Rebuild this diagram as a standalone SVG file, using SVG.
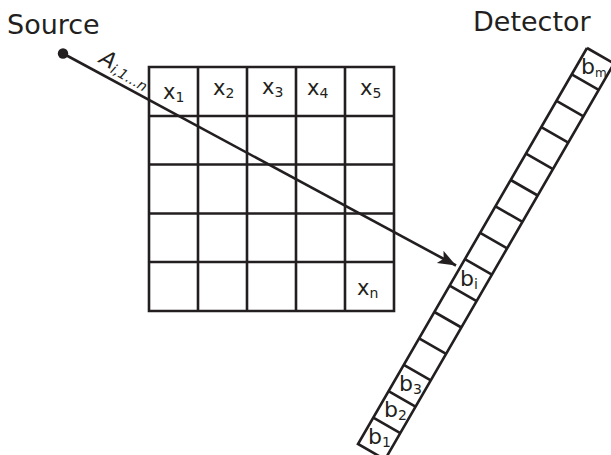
<svg xmlns="http://www.w3.org/2000/svg" width="611" height="455" viewBox="0 0 611 455">
<style>
text{font-family:"DejaVu Sans",sans-serif;fill:#231f20}
.t{font-size:27px}
.c{font-size:21px}
.b{font-size:22px}
.s{font-size:14px}
.l{fill:none;stroke:#231f20;stroke-width:2.6}
</style>
<defs><marker id="a" markerUnits="userSpaceOnUse" markerWidth="20" markerHeight="16" refX="18" refY="7" orient="auto"><path d="M0 0L18 7L0 14L4 7Z" fill="#231f20"/></marker></defs>
<rect width="611" height="455" fill="#fff"/>
<g id="source"><circle cx="63" cy="53.500" r="5.200" fill="#231f20"/><text class="t" x="7" y="34">Source</text></g>
<g id="grid">
<path class="l" d="M149 67H394V311H149ZM198 67V311M247 67V311M296 67V311M345 67V311M149 116H394M149 164.500H394M149 213.500H394M149 262H394"/>
<text class="c" x="163" y="99">x<tspan class="s" dy="3">1</tspan></text>
<text class="c" x="213" y="95">x<tspan class="s" dy="3">2</tspan></text>
<text class="c" x="262" y="94">x<tspan class="s" dy="3">3</tspan></text>
<text class="c" x="307" y="95">x<tspan class="s" dy="3">4</tspan></text>
<text class="c" x="360" y="95">x<tspan class="s" dy="3">5</tspan></text>
<text class="c" x="357" y="295">x<tspan class="s" dy="3">n</tspan></text>
</g>
<g id="detector">
<path class="l" d="M587 48L358 444L385 459.500M587 48L614 63.500L385 459.500"/>
<path class="l" d="M373.300 417.600L400.300 433.100M388.500 391.200L415.500 406.700M403.800 364.800L430.800 380.300M419.100 338.400L446.100 353.900M434.400 312L461.400 327.500M449.600 285.600L476.600 301.100M464.900 259.200L491.900 274.700M480.200 232.800L507.200 248.300M495.500 206.400L522.500 221.900M510.700 180L537.700 195.500M526 153.600L553 169.100M541.300 127.200L568.300 142.700M556.500 100.800L583.500 116.300M571.700 74.400L598.700 89.900"/>
<text class="t" x="473" y="31">Detector</text>
<text class="b" x="368" y="444">b<tspan class="s" dy="3">1</tspan></text>
<text class="b" x="384" y="417">b<tspan class="s" dy="3">2</tspan></text>
<text class="b" x="399" y="391">b<tspan class="s" dy="3">3</tspan></text>
<text class="b" x="460" y="286">b<tspan class="s" dy="3">i</tspan></text>
<text class="b" x="581" y="74"><tspan>b</tspan><tspan font-size="12" dy="3">m</tspan></text>
</g>
<g id="connectors"><path class="l" d="M63 53.500L456 265.500" marker-end="url(#a)"/></g>
<text x="98" y="62" font-size="22" font-style="italic" transform="rotate(30 98 62)">A<tspan font-size="14" dy="3">i,1...n</tspan></text>
</svg>
